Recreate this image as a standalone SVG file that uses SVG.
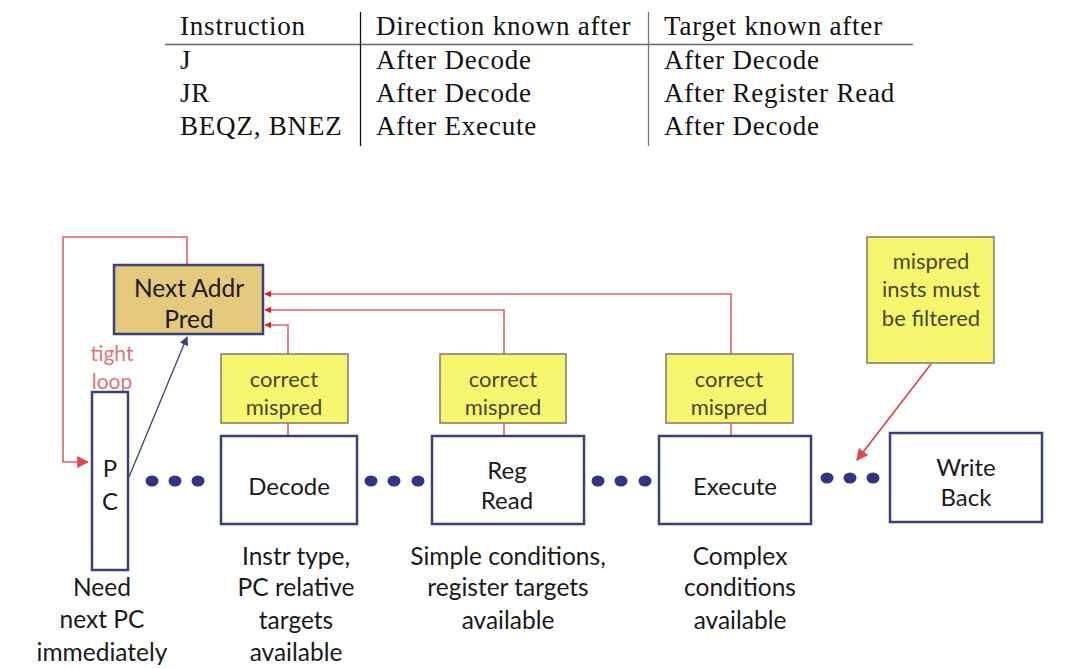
<svg xmlns="http://www.w3.org/2000/svg" width="1088" height="669" viewBox="0 0 1088 669">
<defs>
<style>
.tt{font-family:"Liberation Serif","DejaVu Serif",serif;font-size:27px;letter-spacing:0.8px;fill:#111}
.lb{font-family:Lato,"Open Sans","Liberation Sans",sans-serif;font-size:24px;fill:#1a1a1a;text-anchor:middle;dominant-baseline:central}
.bt{font-size:24.5px}
.yl{font-family:Lato,"Open Sans","Liberation Sans",sans-serif;font-size:22px;fill:#474730;text-anchor:middle;dominant-baseline:central}
.stage{fill:#fff;stroke:#3a3f7e;stroke-width:2.5}
.note{fill:#f6f66e;stroke:#7a7a70;stroke-width:1.5}
.red{fill:none;stroke:#e06060;stroke-width:1.6}
.dot{fill:#2f3583}
</style>
<marker id="ar" viewBox="0 0 10 10" refX="9" refY="5" markerWidth="7" markerHeight="7" markerUnits="userSpaceOnUse" orient="auto"><path d="M0,0L10,5L0,10z" fill="#e01f2a"/></marker>
<marker id="arBig" viewBox="0 0 10 10" refX="9" refY="5" markerWidth="12" markerHeight="12" markerUnits="userSpaceOnUse" orient="auto"><path d="M0,0L10,5L0,10z" fill="#e04848"/></marker>
<marker id="arBlue" viewBox="0 0 10 10" refX="9" refY="5" markerWidth="9" markerHeight="9" markerUnits="userSpaceOnUse" orient="auto"><path d="M0,0L10,5L0,10z" fill="#3a3f7e"/></marker>
</defs>
<rect width="1088" height="669" fill="#fff"/>

<g id="table">
<line x1="165" y1="44.5" x2="913" y2="44.5" stroke="#666" stroke-width="1.5"/>
<line x1="360.5" y1="12" x2="360.5" y2="146" stroke="#111" stroke-width="1.3"/>
<line x1="648.5" y1="12" x2="648.5" y2="146" stroke="#777" stroke-width="1.3"/>
<text class="tt" x="180" y="35">Instruction</text>
<text class="tt" x="376" y="35">Direction known after</text>
<text class="tt" x="664" y="35">Target known after</text>
<text class="tt" x="180" y="69">J</text>
<text class="tt" x="376" y="69">After Decode</text>
<text class="tt" x="664" y="69">After Decode</text>
<text class="tt" x="180" y="102">JR</text>
<text class="tt" x="376" y="102">After Decode</text>
<text class="tt" x="664" y="102">After Register Read</text>
<text class="tt" x="180" y="135">BEQZ, BNEZ</text>
<text class="tt" x="376" y="135">After Execute</text>
<text class="tt" x="664" y="135">After Decode</text>
</g>

<g id="connectors">
<path class="red" d="M187,264 V237 H63 V462 H88" marker-end="url(#arBig)"/>
<path class="red" d="M731,354 V294 H265" marker-end="url(#ar)"/>
<path class="red" d="M504,354 V310 H265" marker-end="url(#ar)"/>
<path class="red" d="M288,354 V325 H265" marker-end="url(#ar)"/>
<line class="red" x1="288" y1="423" x2="288" y2="435"/>
<line class="red" x1="504" y1="423" x2="504" y2="435"/>
<line class="red" x1="731" y1="423" x2="731" y2="435"/>
<line x1="931" y1="364" x2="857" y2="460" stroke="#e03a3a" stroke-width="1.5" marker-end="url(#arBig)"/>
<line x1="129" y1="477" x2="187" y2="337" stroke="#3a3f7e" stroke-width="1.3" marker-end="url(#arBlue)"/>
<g class="dot">
<ellipse cx="152" cy="481" rx="6.5" ry="5.5"/><ellipse cx="175" cy="481" rx="6.5" ry="5.5"/><ellipse cx="198" cy="481" rx="6.5" ry="5.5"/>
<ellipse cx="371" cy="481" rx="6.5" ry="5.5"/><ellipse cx="394" cy="481" rx="6.5" ry="5.5"/><ellipse cx="418" cy="481" rx="6.5" ry="5.5"/>
<ellipse cx="598" cy="481" rx="6.5" ry="5.5"/><ellipse cx="621" cy="481" rx="6.5" ry="5.5"/><ellipse cx="645" cy="481" rx="6.5" ry="5.5"/>
<ellipse cx="827" cy="478" rx="6.5" ry="5.5"/><ellipse cx="850" cy="478" rx="6.5" ry="5.5"/><ellipse cx="873" cy="478" rx="6.5" ry="5.5"/>
</g>
</g>

<g id="nextaddr">
<rect x="114" y="265" width="149" height="69" fill="#e5c97c" stroke="#3a3f7e" stroke-width="2.5"/>
<text class="lb" x="189" y="287" style="font-size:24.5px">Next Addr</text>
<text class="lb" x="189" y="318" style="font-size:24.5px">Pred</text>
</g>
<g id="tightloop">
<text class="lb" x="112" y="352" style="fill:#e07474;font-size:21px">tight</text>
<text class="lb" x="112" y="380" style="fill:#e07474;font-size:21px">loop</text>
</g>
<g id="pc">
<rect x="92" y="392" width="36" height="178" class="stage"/>
<text class="lb" x="110" y="467">P</text>
<text class="lb" x="110" y="500">C</text>
</g>
<g id="cm1">
<rect x="221" y="354" width="127" height="69" class="note"/>
<text class="yl" x="284" y="378">correct</text>
<text class="yl" x="284" y="406">mispred</text>
</g>
<g id="cm2">
<rect x="440" y="354" width="126" height="69" class="note"/>
<text class="yl" x="503" y="378">correct</text>
<text class="yl" x="503" y="406">mispred</text>
</g>
<g id="cm3">
<rect x="666" y="354" width="127" height="69" class="note"/>
<text class="yl" x="729" y="378">correct</text>
<text class="yl" x="729" y="406">mispred</text>
</g>
<g id="filter">
<rect x="867" y="237" width="127" height="126" class="note"/>
<text class="yl" x="931" y="260">mispred</text>
<text class="yl" x="931" y="288">insts must</text>
<text class="yl" x="931" y="317">be filtered</text>
</g>
<g id="decode">
<rect x="221" y="436" width="136" height="88" class="stage"/>
<text class="lb" x="289" y="485">Decode</text>
</g>
<g id="regread">
<rect x="432" y="436" width="152" height="88" class="stage"/>
<text class="lb" x="507" y="469">Reg</text>
<text class="lb" x="507" y="499">Read</text>
</g>
<g id="execute">
<rect x="659" y="436" width="152" height="88" class="stage"/>
<text class="lb" x="735" y="485">Execute</text>
</g>
<g id="writeback">
<rect x="890" y="433" width="152" height="89" class="stage"/>
<text class="lb" x="966" y="466">Write</text>
<text class="lb" x="966" y="496">Back</text>
</g>
<g id="labels">
<text class="lb bt" x="102" y="586">Need</text>
<text class="lb bt" x="102" y="618">next PC</text>
<text class="lb bt" x="102" y="651">immediately</text>
<text class="lb bt" x="296" y="555">Instr type,</text>
<text class="lb bt" x="296" y="586">PC relative</text>
<text class="lb bt" x="296" y="619">targets</text>
<text class="lb bt" x="296" y="651">available</text>
<text class="lb bt" x="508" y="555">Simple conditions,</text>
<text class="lb bt" x="508" y="586">register targets</text>
<text class="lb bt" x="508" y="619">available</text>
<text class="lb bt" x="740" y="555">Complex</text>
<text class="lb bt" x="740" y="586">conditions</text>
<text class="lb bt" x="740" y="619">available</text>
</g>
</svg>
